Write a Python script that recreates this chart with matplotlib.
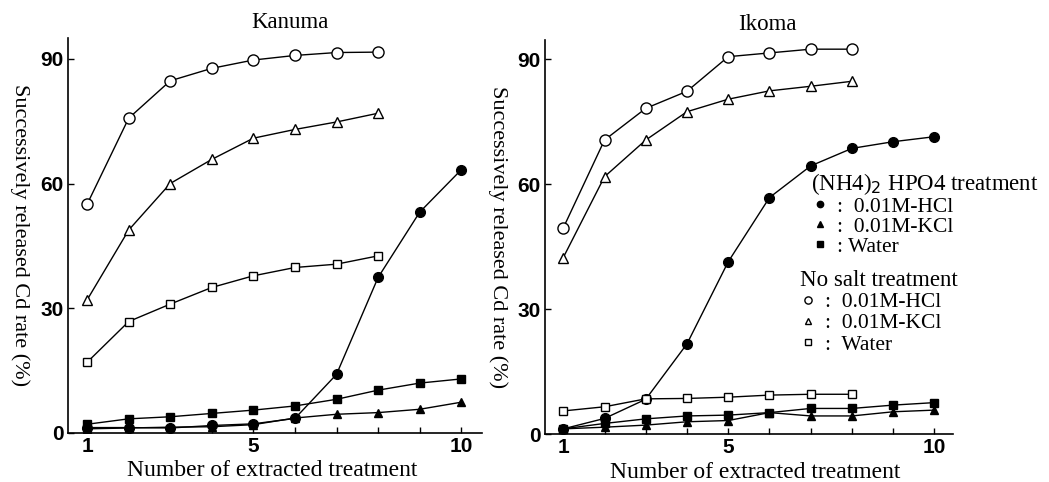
import matplotlib
matplotlib.use("Agg")
import matplotlib.pyplot as plt
from matplotlib.lines import Line2D

# number of extraction
n10 = [1, 2, 3, 4, 5, 6, 7, 8, 9, 10]
n8 = [1, 2, 3, 4, 5, 6, 7, 8]

# Kanuma - (NH4)2HPO4 treated soil
kan_p_hcl = [1.3, 1.3, 1.2, 1.8, 2.2, 3.5, 14.1, 37.4, 53.1, 63.3]
kan_p_kcl = [1.0, 1.2, 1.4, 1.5, 2.0, 3.6, 4.5, 4.9, 5.7, 7.4]
kan_p_water = [2.1, 3.4, 3.9, 4.7, 5.5, 6.5, 8.1, 10.3, 12.0, 13.0]
# Kanuma - no salt
kan_hcl = [55.0, 75.7, 84.7, 87.7, 89.7, 90.8, 91.5, 91.6]
kan_kcl = [32.0, 48.8, 60.0, 65.8, 70.9, 73.0, 74.8, 76.9]
kan_water = [17.0, 26.8, 31.0, 35.0, 37.8, 39.8, 40.6, 42.6]

# Ikoma - (NH4)2HPO4 treated soil
iko_p_hcl = [1.3, 3.8, 8.4, 21.7, 41.4, 56.8, 64.4, 68.6, 70.2, 71.4]
iko_p_kcl = [1.3, 1.7, 2.2, 3.0, 3.3, 5.2, 4.4, 4.4, 5.4, 5.8]
iko_p_water = [1.3, 2.6, 3.7, 4.4, 4.6, 5.2, 6.2, 6.2, 7.0, 7.6]
# Ikoma - no salt
iko_hcl = [49.5, 70.6, 78.2, 82.3, 90.6, 91.5, 92.4, 92.4]
iko_kcl = [42.4, 61.8, 70.6, 77.4, 80.4, 82.4, 83.5, 84.7]
iko_water = [5.6, 6.6, 8.5, 8.6, 8.9, 9.4, 9.6, 9.6]

xtick_labels = ['1', '', '', '', '5', '', '', '', '', '10']
yticks = [0, 30, 60, 90]

serif = 'Liberation Serif'
tickfont = {'family': ['Liberation Sans Narrow', 'Liberation Sans'], 'weight': 'bold', 'size': 15}

fig = plt.figure(figsize=(10.49, 4.82), dpi=100)
ax1 = fig.add_axes([0.0648, 0.1017, 0.3947, 0.8195])
ax2 = fig.add_axes([0.5195, 0.0990, 0.3890, 0.8180])

styles = {
    'p_hcl': dict(marker='o', ms=7, mfc='black'),
    'p_kcl': dict(marker='^', ms=6, mfc='black'),
    'p_water': dict(marker='s', ms=6, mfc='black'),
    'hcl': dict(marker='o', ms=8, mfc='white'),
    'kcl': dict(marker='^', ms=6.5, mfc='white'),
    'water': dict(marker='s', ms=6.3, mfc='white'),
}


def draw(ax, p_hcl, p_kcl, p_water, hcl, kcl, water):
    common = dict(color='black', lw=1.0, mec='black', mew=1.0)
    ax.plot(n10, p_kcl, zorder=3, **styles['p_kcl'], **common)
    ax.plot(n10, p_water, zorder=3, **styles['p_water'], **common)
    ax.plot(n10, p_hcl, zorder=4, **styles['p_hcl'], **common)
    ax.plot(n8, water, zorder=5, **styles['water'], **common)
    ax.plot(n8, kcl, zorder=5, **styles['kcl'], **common)
    ax.plot(n8, hcl, zorder=5, **styles['hcl'], **common)


draw(ax1, kan_p_hcl, kan_p_kcl, kan_p_water, kan_hcl, kan_kcl, kan_water)
draw(ax2, iko_p_hcl, iko_p_kcl, iko_p_water, iko_hcl, iko_kcl, iko_water)

ax1.set_xlim(0.54, 10.5)
ax1.set_ylim(0, 95)
ax2.set_xlim(0.556, 10.45)
ax2.set_ylim(0, 94.6)

for ax, title, tx, xl in [(ax1, 'Kanuma', 0.536, 0.493), (ax2, 'Ikoma', 0.544, 0.515)]:
    for s in ['top', 'right']:
        ax.spines[s].set_visible(False)
    for s in ['left', 'bottom']:
        ax.spines[s].set_linewidth(1.2)
    ax.set_xticks(n10)
    ax.set_xticklabels(xtick_labels, fontdict=tickfont)
    ax.set_yticks(yticks)
    ax.set_yticklabels([str(v) for v in yticks], fontdict=tickfont)
    ax.tick_params(direction='in', length=4, width=1, pad=3)
    ax.text(tx, 1.04, title, transform=ax.transAxes, ha='center', va='center',
            family=serif, fontsize=16.5)
    ax.set_xlabel('Number of extracted treatment', family=serif, fontsize=17)
    ax.xaxis.label.set_va('center')
    ax.xaxis.set_label_coords(xl, -0.096)
    ax.set_ylabel('Successively released Cd rate (%)', family=serif, fontsize=16)
    ax.yaxis.label.set(rotation=270, va='center', ha='center')
    ax.yaxis.set_label_coords(-0.116, 0.5)

# legends
def handle(key):
    return Line2D([], [], ls='none', color='black', mec='black', mew=1.0, **styles[key])


title_font = {'family': serif, 'size': 16.5}
legend_font = {'family': serif, 'size': 15.5}
leg1 = ax2.legend([handle('p_hcl'), handle('p_kcl'), handle('p_water')],
                  [':  0.01M-HCl', ':  0.01M-KCl', ': Water'],
                  title='(NH4)$_2$ HPO4 treatment', title_fontproperties=title_font,
                  prop=legend_font, loc='upper left', bbox_to_anchor=(0.763, 0.668),
                  bbox_transform=fig.transFigure, frameon=False, alignment='left',
                  handlelength=0.8, handletextpad=0.4, labelspacing=0.0,
                  borderpad=0, markerscale=0.65)
ax2.add_artist(leg1)
ax2.legend([handle('hcl'), handle('kcl'), handle('water')],
           [':  0.01M-HCl', ':  0.01M-KCl', ':  Water'],
           title='No salt treatment', title_fontproperties=title_font,
           prop=legend_font, loc='upper left', bbox_to_anchor=(0.752, 0.462),
           bbox_transform=fig.transFigure, frameon=False, alignment='left',
           handlelength=0.8, handletextpad=0.4, labelspacing=0.05,
           borderpad=0, markerscale=0.65)

fig.savefig('out.png', dpi=100)
